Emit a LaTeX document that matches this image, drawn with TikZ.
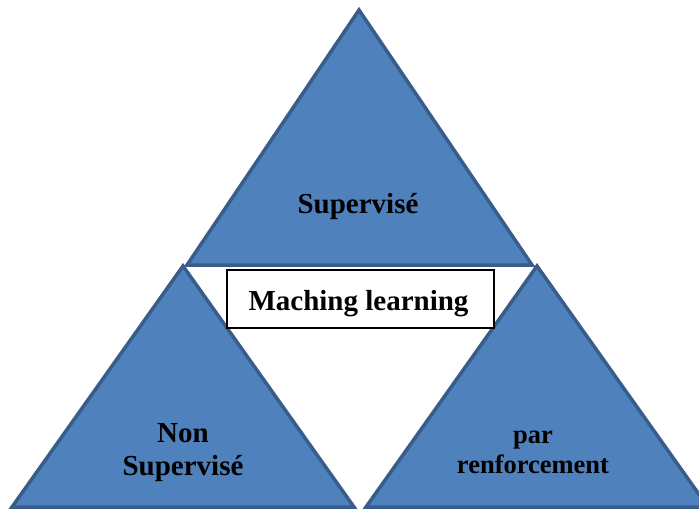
\documentclass[tikz,border=0pt]{standalone}
\usepackage{fontspec}
\setmainfont{Liberation Serif}
\definecolor{tBlue}{HTML}{4F81BD}
\definecolor{tEdge}{HTML}{385D8A}
\usetikzlibrary{positioning}

\begin{document}
\begin{tikzpicture}[x=1pt, y=-1pt,
  tri/.style={draw=tEdge, fill=tBlue, line width=3.5pt, line join=miter},
  lbl/.style={font=\fontsize{29}{33}\selectfont\bfseries, align=center,
              inner sep=0pt, anchor=base},
  small/.style={font=\fontsize{26.5}{30}\selectfont\bfseries, align=center,
              inner sep=0pt, anchor=base},
  title/.style={draw=black, line width=1.5pt, fill=white,
              minimum width=267pt, minimum height=58pt,
              text height=22pt, text depth=0pt,
              font=\fontsize{29}{33}\selectfont\bfseries}]
  \useasboundingbox (0,0) rectangle (699,509);

  % three triangles
  \coordinate (topA) at (359,10);
  \coordinate (topL) at (187,265);
  \coordinate (topR) at (532,265);
  \coordinate (leftA) at (183,266);
  \coordinate (leftL) at (12,507);
  \coordinate (leftR) at (354,507);
  \coordinate (rightA) at (537,266);
  \coordinate (rightL) at (366,507);
  \coordinate (rightR) at (708,507);

  \begin{scope}
    \clip (0,0) rectangle (699,509);
    \draw[tri] (topA) -- (topR) -- (topL) -- cycle;
    \draw[tri] (leftA) -- (leftR) -- (leftL) -- cycle;
    \draw[tri] (rightA) -- (rightR) -- (rightL) -- cycle;
  \end{scope}

  \node[title] (ml) at (360.5,299) {\hspace*{-4pt}Maching learning};

  \node[lbl] (sup) at (358,213) {Supervisé};
  \node[lbl] (nonsup) at (183,475) {Non\\Supervisé};
  \node[small] (renf) at (533,473) {par\\renforcement};
\end{tikzpicture}
\end{document}
